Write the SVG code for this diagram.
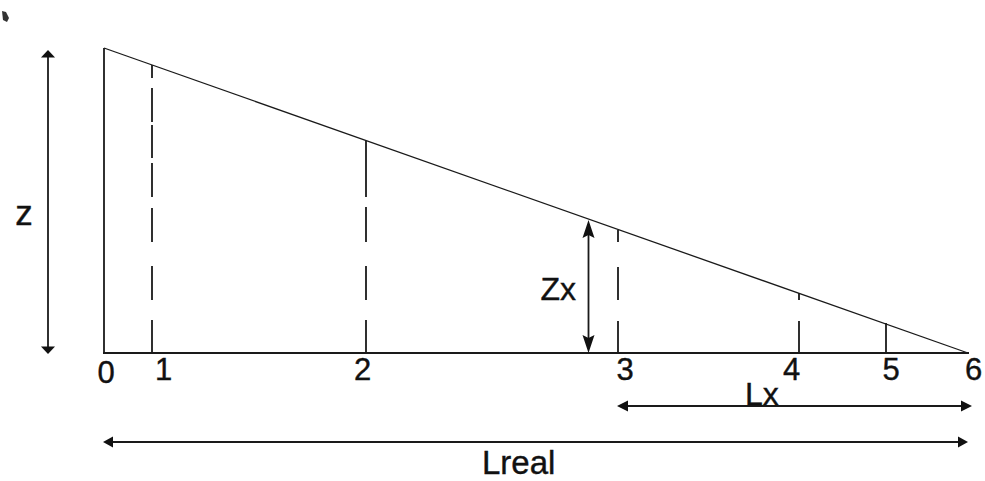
<svg xmlns="http://www.w3.org/2000/svg" width="985" height="481" viewBox="0 0 985 481">
<style>
.ln{stroke:#1a1a1a;stroke-width:1.8;fill:none}
.th{stroke:#1a1a1a;stroke-width:1.3;fill:none}
.ah{fill:#111;stroke:none}
text{font-family:"Liberation Sans",Arial,sans-serif;fill:#111;stroke:#111;stroke-width:0.4}
.num{font-size:31px;text-anchor:middle}
</style>
<rect width="985" height="481" fill="#fff"/>
<path d="M2,11 L6,12 L9,18 L7,22 L3,20 Z" fill="#333"/>
<g id="triangle">
<line class="ln" x1="104" y1="48" x2="104" y2="353"/>
<line class="ln" x1="103" y1="353" x2="969" y2="353"/>
<line class="th" x1="104" y1="48" x2="968" y2="353"/>
</g>
<g id="verticals" class="ln">
<path d="M152,65V78M152,88V122M152,125V158M152,163V197M152,208V242M152,266V300M152,320V353"/>
<path d="M366,141V197M366,207V242M366,266V300M366,320V353"/>
<path d="M618,230V242M618,267V300M618,321V353"/>
<path d="M799,293V300M799,321V353"/>
<path d="M886,323V353"/>
</g>
<g id="connectors">
<line class="ln" x1="48" y1="56" x2="48" y2="348"/>
<path class="ah" d="M48,50 L55,57.5 L41,57.5 Z"/>
<path class="ah" d="M48,354 L55,346.5 L41,346.5 Z"/>
<line class="ln" x1="588.5" y1="228" x2="588.5" y2="345"/>
<path class="ah" d="M588.5,220 L594.5,238 L588.5,235 L582.5,238 Z"/>
<path class="ah" d="M588.5,353 L594.5,335 L588.5,338 L582.5,335 Z"/>
<line class="ln" x1="624" y1="406" x2="966" y2="406"/>
<path class="ah" d="M617,406 L628,400.5 L628,411.5 Z"/>
<path class="ah" d="M972,406 L961,400.5 L961,411.5 Z"/>
<line class="ln" x1="110" y1="442" x2="962" y2="442"/>
<path class="ah" d="M103,442 L113,436.5 L113,447.5 Z"/>
<path class="ah" d="M968,442 L958,436.5 L958,447.5 Z"/>
</g>
<g id="labels">
<text x="24" y="225" style="font-size:35px;text-anchor:middle">z</text>
<text x="576" y="300" style="font-size:32px;text-anchor:end">Zx</text>
<text x="745" y="405" style="font-size:32px">Lx</text>
<text x="482" y="474" style="font-size:33px">Lreal</text>
<text class="num" x="106" y="383">0</text>
<text class="num" x="163.5" y="380">1</text>
<text class="num" x="362.5" y="380">2</text>
<text class="num" x="625" y="380">3</text>
<text class="num" x="791.5" y="380">4</text>
<text class="num" x="891" y="380">5</text>
<text class="num" x="973.5" y="380">6</text>
</g>
</svg>
